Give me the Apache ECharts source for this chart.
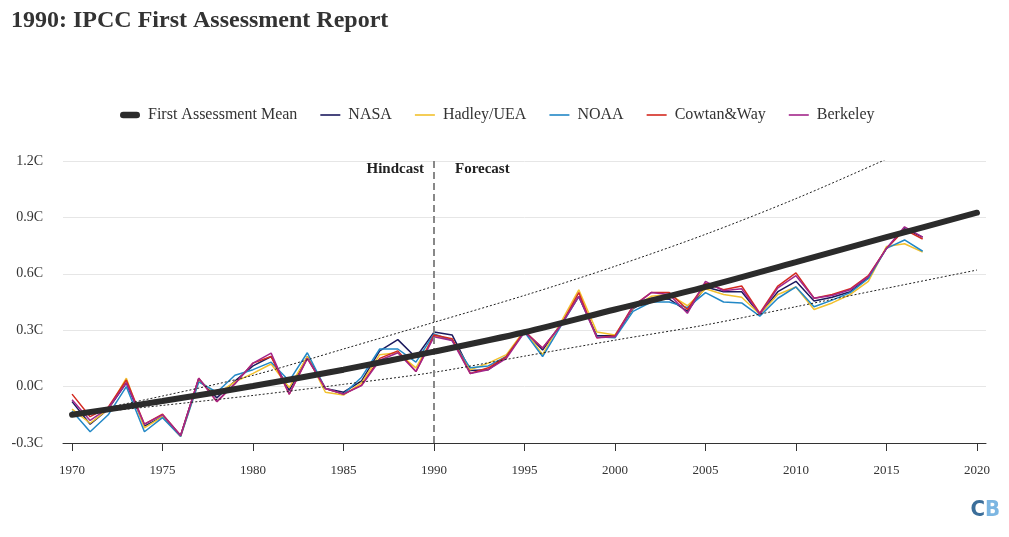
<!DOCTYPE html>
<html><head><meta charset="utf-8">
<script src="https://cdn.jsdelivr.net/npm/echarts@6/dist/echarts.min.js"></script>
<style>html,body{margin:0;padding:0;background:#fff}#c{width:1009px;height:537px}</style>
</head><body><div id="c"></div>
<script>
const years = [1970,1971,1972,1973,1974,1975,1976,1977,1978,1979,1980,1981,1982,1983,1984,1985,1986,1987,1988,1989,1990,1991,1992,1993,1994,1995,1996,1997,1998,1999,2000,2001,2002,2003,2004,2005,2006,2007,2008,2009,2010,2011,2012,2013,2014,2015,2016,2017];
const nasa = [-0.08,-0.2,-0.12,0.02,-0.21,-0.16,-0.26,0.04,-0.06,0.03,0.11,0.16,-0.02,0.16,-0.01,-0.03,0.03,0.19,0.25,0.155,0.29,0.275,0.085,0.09,0.16,0.295,0.195,0.33,0.48,0.27,0.27,0.415,0.47,0.465,0.4,0.53,0.505,0.505,0.385,0.505,0.56,0.455,0.475,0.505,0.58,0.735,0.84,0.795];
const hadley = [-0.12,-0.195,-0.12,0.045,-0.22,-0.16,-0.265,0.03,-0.04,0.025,0.07,0.12,-0.005,0.16,-0.03,-0.045,0.02,0.17,0.18,0.1,0.27,0.25,0.09,0.125,0.17,0.3,0.17,0.34,0.515,0.29,0.275,0.42,0.48,0.49,0.43,0.52,0.49,0.475,0.385,0.49,0.53,0.41,0.445,0.49,0.56,0.745,0.76,0.715];
const noaa = [-0.13,-0.24,-0.15,0.0,-0.24,-0.165,-0.265,0.025,-0.03,0.06,0.09,0.13,0.03,0.18,-0.01,-0.04,0.05,0.2,0.2,0.13,0.28,0.245,0.1,0.11,0.16,0.29,0.16,0.32,0.48,0.265,0.26,0.4,0.45,0.45,0.42,0.5,0.45,0.445,0.375,0.47,0.53,0.425,0.46,0.5,0.575,0.735,0.78,0.72];
const cowtan = [-0.04,-0.16,-0.11,0.035,-0.2,-0.147,-0.26,0.045,-0.08,0.015,0.125,0.16,-0.04,0.15,-0.01,-0.04,0.008,0.15,0.19,0.08,0.275,0.255,0.07,0.1,0.16,0.295,0.205,0.325,0.5,0.26,0.27,0.43,0.5,0.5,0.41,0.55,0.515,0.535,0.39,0.535,0.605,0.47,0.49,0.52,0.59,0.735,0.835,0.785];
const berkeley = [-0.07,-0.18,-0.115,0.02,-0.2,-0.15,-0.26,0.045,-0.08,0.015,0.125,0.178,-0.04,0.15,-0.01,-0.04,0.005,0.14,0.18,0.08,0.265,0.245,0.07,0.09,0.15,0.29,0.205,0.325,0.48,0.26,0.265,0.425,0.5,0.49,0.39,0.56,0.51,0.52,0.385,0.525,0.59,0.47,0.485,0.515,0.585,0.735,0.85,0.795];
const projYears = [1970,1975,1980,1985,1990,1995,2000,2005,2010,2015,2020];
const farMean = [-0.15,-0.077,0.003,0.09,0.186,0.289,0.41,0.53,0.662,0.795,0.925];
const farHigh = [-0.15,-0.05,0.06,0.2,0.342,0.485,0.64,0.81,1.0,1.21,1.43];
const farLow = [-0.15,-0.1,-0.047,0.012,0.076,0.162,0.247,0.328,0.425,0.523,0.62];
const xTicks = [1970,1975,1980,1985,1990,1995,2000,2005,2010,2015,2020];
const splitYear = 1990;

const FONT = 'Liberation Serif';
const THIN_ICON = 'path://M0,0 H20 V1.6 H0 Z';
const THICK_ICON = 'path://M3,0 H15 A3,3 0 0 1 15,6 H3 A3,3 0 0 1 3,0 Z';
const pair = (xs, ys) => xs.map((x, i) => [x, ys[i]]);
const obs = (name, data, color) => ({
  name, type: 'line', data: pair(years, data), symbol: 'none', z: 2,
  lineStyle: { color, width: 1.5 }, itemStyle: { color }
});

const chart = echarts.init(document.getElementById('c'));
chart.setOption({
  animation: false,
  title: { text: '1990: IPCC First Assessment Report', left: 6, top: 4,
    textStyle: { fontFamily: FONT, fontSize: 24, fontWeight: 'bold', color: '#333' } },
  legend: {
    top: 102, left: 115, itemWidth: 20, itemHeight: 8, itemGap: 23,
    textStyle: { fontFamily: FONT, fontSize: 16, color: '#333', padding: [0, 0, 0, 3] },
    data: [
      { name: 'First Assessment Mean', icon: THICK_ICON },
      { name: 'NASA', icon: THIN_ICON },
      { name: 'Hadley/UEA', icon: THIN_ICON },
      { name: 'NOAA', icon: THIN_ICON },
      { name: 'Cowtan&Way', icon: THIN_ICON },
      { name: 'Berkeley', icon: THIN_ICON }
    ]
  },
  grid: { left: 63, right: 23, top: 161, height: 282, containLabel: false },
  xAxis: {
    type: 'value', min: 1969.5, max: 2020.5,
    axisLine: { show: true, onZero: false, lineStyle: { color: '#333', width: 1 } },
    axisTick: { show: true, customValues: xTicks, length: 8, lineStyle: { color: '#333' } },
    axisLabel: { customValues: xTicks, margin: 21, fontFamily: FONT, fontSize: 13, color: '#333', formatter: v => String(v) },
    splitLine: { show: false }
  },
  yAxis: {
    type: 'value', min: -0.3, max: 1.2, interval: 0.3,
    axisLine: { show: false }, axisTick: { show: false },
    axisLabel: { margin: 20, fontFamily: FONT, fontSize: 14, color: '#333', formatter: v => v.toFixed(1) + 'C' },
    splitLine: { lineStyle: { color: '#e6e6e6', width: 1 } }
  },
  series: [
    { name: 'upper', type: 'line', data: pair(projYears, farHigh), symbol: 'none', smooth: 0.3, z: 3,
      lineStyle: { color: '#222', width: 1, type: [2, 2] },
      markLine: { silent: true, symbol: 'none', label: { show: false },
        lineStyle: { color: '#888', width: 2, type: [7, 4] },
        data: [{ xAxis: splitYear }] } },
    { name: 'lower', type: 'line', data: pair(projYears, farLow), symbol: 'none', smooth: 0.3, z: 3,
      lineStyle: { color: '#222', width: 1, type: [2, 2] } },
    obs('NASA', nasa, '#1c1a5e'),
    obs('Hadley/UEA', hadley, '#f2c12e'),
    obs('NOAA', noaa, '#2288c6'),
    obs('Cowtan&Way', cowtan, '#d42a20'),
    obs('Berkeley', berkeley, '#a3268a'),
    { name: 'First Assessment Mean', type: 'line', data: pair(projYears, farMean), symbol: 'none', smooth: 0.3, z: 5,
      lineStyle: { color: '#2b2b2b', width: 6, cap: 'round' }, itemStyle: { color: '#2b2b2b' } }
  ]
});

const px = chart.convertToPixel({ gridIndex: 0 }, [splitYear, 1.2]);
chart.setOption({
  graphic: [
    { type: 'text', x: px[0] - 10, y: px[1] + 8, style: { text: 'Hindcast', align: 'right', verticalAlign: 'middle',
        font: 'bold 15px "Liberation Serif"', fill: '#222' } },
    { type: 'text', x: px[0] + 21, y: px[1] + 8, style: { text: 'Forecast', align: 'left', verticalAlign: 'middle',
        font: 'bold 15px "Liberation Serif"', fill: '#222' } },
    { type: 'text', right: 9, bottom: 16, style: { rich: { c: { fill: '#3b6e9a', font: 'bold 22px "DejaVu Sans Condensed"' },
        b: { fill: '#7cb6e2', font: 'bold 22px "DejaVu Sans Condensed"' } }, text: '{c|C}{b|B}' } }
  ]
});
</script>
</body></html>
